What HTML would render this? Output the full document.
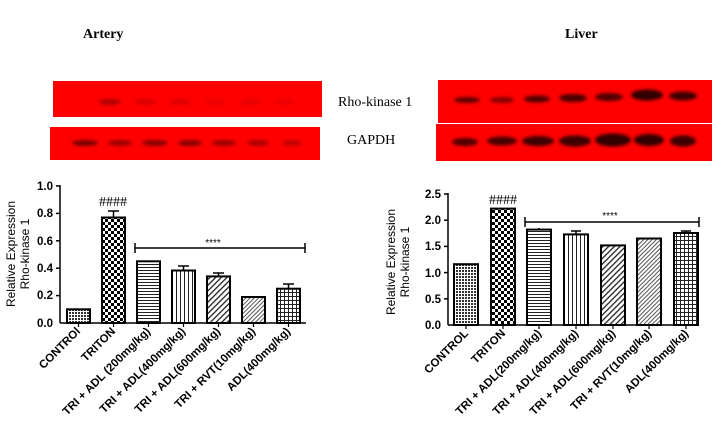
<!DOCTYPE html>
<html><head><meta charset="utf-8"><style>
html,body{margin:0;padding:0;background:#fff;}
svg{display:block;}
</style></head><body>
<svg width="724" height="424" viewBox="0 0 724 424" xmlns="http://www.w3.org/2000/svg" font-family="Liberation Sans, sans-serif">
<defs>
<filter id="bl" x="-50%" y="-100%" width="200%" height="300%"><feGaussianBlur stdDeviation="1.6"/></filter>
<pattern id="pC" width="3" height="3" patternUnits="userSpaceOnUse"><rect width="3" height="3" fill="#fff"/><rect width="2" height="2" fill="#333"/></pattern>
<pattern id="pT" width="6" height="6" patternUnits="userSpaceOnUse"><rect width="6" height="6" fill="#fff"/><rect width="3" height="3" fill="#000"/><rect x="3" y="3" width="3" height="3" fill="#000"/></pattern>
<pattern id="pH" width="4" height="3" patternUnits="userSpaceOnUse"><rect width="4" height="3" fill="#fff"/><rect width="4" height="1" fill="#222"/></pattern>
<pattern id="pV" width="4" height="4" patternUnits="userSpaceOnUse"><rect width="4" height="4" fill="#fff"/><rect width="1" height="4" fill="#222"/></pattern>
<pattern id="pD" width="4" height="4" patternUnits="userSpaceOnUse" patternTransform="rotate(45)"><rect width="4" height="4" fill="#fff"/><rect width="1.3" height="4" fill="#222"/></pattern>
<pattern id="pD2" width="3" height="3" patternUnits="userSpaceOnUse" patternTransform="rotate(45)"><rect width="3" height="3" fill="#fff"/><rect width="1" height="3" fill="#555"/></pattern>
<pattern id="pG" width="4" height="4" patternUnits="userSpaceOnUse"><rect width="4" height="4" fill="#fff"/><rect width="1" height="4" fill="#222"/><rect width="4" height="1" fill="#222"/></pattern>
</defs>

<text x="83" y="38" font-family="Liberation Serif, serif" font-weight="bold" font-size="14">Artery</text>
<text x="565" y="38" font-family="Liberation Serif, serif" font-weight="bold" font-size="14">Liver</text>

<rect x="53" y="81" width="269" height="36" fill="#f00"/>
<g filter="url(#bl)" fill="#600">
<ellipse cx="110" cy="102" rx="11" ry="3" opacity="0.5"/><ellipse cx="145" cy="102" rx="11" ry="3" opacity="0.25"/><ellipse cx="180" cy="102" rx="11" ry="3" opacity="0.2"/><ellipse cx="215" cy="102" rx="11" ry="3" opacity="0.12"/><ellipse cx="250" cy="102" rx="11" ry="3" opacity="0.15"/><ellipse cx="285" cy="102" rx="11" ry="3" opacity="0.12"/></g>
<rect x="50" y="127" width="270" height="33" fill="#f00"/>
<g filter="url(#bl)" fill="#500">
<ellipse cx="85" cy="143" rx="13" ry="3" opacity="0.8"/><ellipse cx="120" cy="143" rx="12" ry="3" opacity="0.6"/><ellipse cx="155" cy="143" rx="13" ry="3" opacity="0.7"/><ellipse cx="190" cy="143" rx="12" ry="3" opacity="0.7"/><ellipse cx="224" cy="143" rx="12" ry="3" opacity="0.6"/><ellipse cx="258" cy="143" rx="11" ry="3" opacity="0.5"/><ellipse cx="292" cy="143" rx="10" ry="2.5" opacity="0.4"/></g>
<rect x="438" y="80" width="274" height="43" fill="#f00"/>
<g filter="url(#bl)" fill="#300">
<ellipse cx="467" cy="100" rx="13" ry="3" opacity="0.8"/><ellipse cx="502" cy="100" rx="12" ry="3" opacity="0.6"/><ellipse cx="537" cy="99" rx="13" ry="3.5" opacity="0.85"/><ellipse cx="573" cy="98" rx="14" ry="4" opacity="0.9"/><ellipse cx="609" cy="97" rx="14" ry="4" opacity="0.85"/><ellipse cx="647" cy="95" rx="16" ry="5.5" opacity="1"/><ellipse cx="683" cy="96" rx="14" ry="4.5" opacity="0.95"/></g>
<rect x="436" y="124" width="276" height="37" fill="#f00"/>
<g filter="url(#bl)" fill="#300">
<ellipse cx="465" cy="142" rx="13" ry="4" opacity="0.85"/><ellipse cx="502" cy="141" rx="15" ry="4.5" opacity="0.9"/><ellipse cx="538" cy="141" rx="16" ry="5" opacity="0.95"/><ellipse cx="575" cy="141" rx="16" ry="5.5" opacity="0.95"/><ellipse cx="613" cy="140" rx="18" ry="6.5" opacity="1"/><ellipse cx="649" cy="140" rx="15" ry="6" opacity="1"/><ellipse cx="683" cy="141" rx="13" ry="5.5" opacity="0.95"/></g>
<text x="338" y="106" font-family="Liberation Serif, serif" font-size="14">Rho-kinase 1</text>
<text x="347" y="144" font-family="Liberation Serif, serif" font-size="14">GAPDH</text>

<!-- left chart -->
<g stroke="#000" stroke-width="1.5" fill="none">
<line x1="60" y1="185" x2="60" y2="323"/><line x1="60" y1="323" x2="306" y2="323"/>
<line x1="56" y1="186" x2="60" y2="186"/><line x1="56" y1="213.4" x2="60" y2="213.4"/><line x1="56" y1="240.8" x2="60" y2="240.8"/><line x1="56" y1="268.2" x2="60" y2="268.2"/><line x1="56" y1="295.6" x2="60" y2="295.6"/>
</g>
<g font-size="11.5" font-weight="bold" text-anchor="end"><text x="53" y="190">1.0</text><text x="53" y="217">0.8</text><text x="53" y="245">0.6</text><text x="53" y="272">0.4</text><text x="53" y="299">0.2</text><text x="53" y="327">0.0</text></g>
<text transform="translate(15,254) rotate(-90)" font-size="12" text-anchor="middle">Relative Expression</text>
<text transform="translate(29,254) rotate(-90)" font-size="12" text-anchor="middle">Rho-kinase 1</text>
<g stroke="#000" stroke-width="2">
<rect x="67" y="309.3" width="23" height="13.7" fill="url(#pC)"/>
<rect x="102" y="217.5" width="23" height="105.5" fill="url(#pT)"/>
<rect x="137" y="261.3" width="23" height="61.7" fill="url(#pH)"/>
<rect x="172" y="270.5" width="23" height="52.5" fill="url(#pV)"/>
<rect x="207" y="276.4" width="23" height="46.6" fill="url(#pD)"/>
<rect x="242" y="297" width="23" height="26" fill="url(#pD2)"/>
<rect x="277" y="288.7" width="23" height="34.3" fill="url(#pG)"/>
</g>
<g stroke="#000" stroke-width="1.5">
<line x1="113.5" y1="217" x2="113.5" y2="211"/><line x1="108" y1="211" x2="119" y2="211"/>
<line x1="183.5" y1="270" x2="183.5" y2="266"/><line x1="178" y1="266" x2="189" y2="266"/>
<line x1="218.5" y1="276" x2="218.5" y2="273"/><line x1="213" y1="273" x2="224" y2="273"/>
<line x1="288.5" y1="288" x2="288.5" y2="284"/><line x1="283" y1="284" x2="294" y2="284"/>
<line x1="135" y1="248" x2="305" y2="248"/><line x1="135" y1="243" x2="135" y2="253"/><line x1="305" y1="243" x2="305" y2="253"/>
</g>
<text x="113" y="206" font-size="14" text-anchor="middle" font-family="Liberation Serif, serif">####</text>
<text x="213" y="246" font-size="10" text-anchor="middle">****</text>
<g stroke="#000" stroke-width="1.2"><line x1="78.5" y1="323" x2="78.5" y2="327"/><line x1="113.5" y1="323" x2="113.5" y2="327"/><line x1="148.5" y1="323" x2="148.5" y2="327"/><line x1="183.5" y1="323" x2="183.5" y2="327"/><line x1="218.5" y1="323" x2="218.5" y2="327"/><line x1="253.5" y1="323" x2="253.5" y2="327"/><line x1="288.5" y1="323" x2="288.5" y2="327"/></g>
<g font-size="11.5" font-weight="bold" text-anchor="end">
<text transform="translate(81,332) rotate(-45)">CONTROl</text>
<text transform="translate(116,332) rotate(-45)">TRITON</text>
<text transform="translate(151,332) rotate(-45)">TRI + ADL (200mg/kg)</text>
<text transform="translate(186,332) rotate(-45)">TRI + ADL(400mg/kg)</text>
<text transform="translate(221,332) rotate(-45)">TRI + ADL(600mg/kg)</text>
<text transform="translate(256,332) rotate(-45)">TRI + RVT(10mg/kg)</text>
<text transform="translate(291,332) rotate(-45)">ADL(400mg/kg)</text>
</g>

<!-- right chart -->
<g stroke="#000" stroke-width="1.5" fill="none">
<line x1="448" y1="193" x2="448" y2="325"/><line x1="448" y1="325" x2="699" y2="325"/>
<line x1="444" y1="194" x2="448" y2="194"/><line x1="444" y1="220.2" x2="448" y2="220.2"/><line x1="444" y1="246.4" x2="448" y2="246.4"/><line x1="444" y1="272.6" x2="448" y2="272.6"/><line x1="444" y1="298.8" x2="448" y2="298.8"/>
</g>
<g font-size="11.5" font-weight="bold" text-anchor="end"><text x="441" y="198">2.5</text><text x="441" y="224">2.0</text><text x="441" y="250">1.5</text><text x="441" y="277">1.0</text><text x="441" y="303">0.5</text><text x="441" y="329">0.0</text></g>
<text transform="translate(395,262) rotate(-90)" font-size="12" text-anchor="middle">Relative Expression</text>
<text transform="translate(409,262) rotate(-90)" font-size="12" text-anchor="middle">Rho-kinase 1</text>
<g stroke="#000" stroke-width="2">
<rect x="454" y="264.2" width="24" height="60.8" fill="url(#pC)"/>
<rect x="491" y="208.6" width="24" height="116.4" fill="url(#pT)"/>
<rect x="527" y="229.6" width="24" height="95.4" fill="url(#pH)"/>
<rect x="564" y="234.4" width="24" height="90.6" fill="url(#pV)"/>
<rect x="601" y="245.4" width="24" height="79.6" fill="url(#pD)"/>
<rect x="637" y="238.5" width="24" height="86.5" fill="url(#pD2)"/>
<rect x="674" y="233" width="24" height="92" fill="url(#pG)"/>
</g>
<g stroke="#000" stroke-width="1.5">
<line x1="576" y1="234" x2="576" y2="231"/><line x1="571" y1="231" x2="581" y2="231"/>
<line x1="539" y1="229" x2="539" y2="228"/><line x1="686" y1="233" x2="686" y2="231"/><line x1="681" y1="231" x2="691" y2="231"/>
<line x1="525" y1="222" x2="699" y2="222"/><line x1="525" y1="217" x2="525" y2="227"/><line x1="699" y1="217" x2="699" y2="227"/>
</g>
<text x="503" y="204" font-size="14" text-anchor="middle" font-family="Liberation Serif, serif">####</text>
<text x="610" y="219" font-size="10" text-anchor="middle">****</text>
<g stroke="#000" stroke-width="1.2"><line x1="466" y1="325" x2="466" y2="329"/><line x1="503" y1="325" x2="503" y2="329"/><line x1="539" y1="325" x2="539" y2="329"/><line x1="576" y1="325" x2="576" y2="329"/><line x1="613" y1="325" x2="613" y2="329"/><line x1="649" y1="325" x2="649" y2="329"/><line x1="686" y1="325" x2="686" y2="329"/></g>
<g font-size="11.5" font-weight="bold" text-anchor="end">
<text transform="translate(469,334) rotate(-45)">CONTROL</text>
<text transform="translate(506,334) rotate(-45)">TRITON</text>
<text transform="translate(542,334) rotate(-45)">TRI +  ADL(200mg/kg)</text>
<text transform="translate(579,334) rotate(-45)">TRI + ADL(400mg/kg)</text>
<text transform="translate(616,334) rotate(-45)">TRI + ADL(600mg/kg)</text>
<text transform="translate(652,334) rotate(-45)">TRI + RVT(10mg/kg)</text>
<text transform="translate(689,334) rotate(-45)">ADL(400mg/kg)</text>
</g>
</svg>
</body></html>
